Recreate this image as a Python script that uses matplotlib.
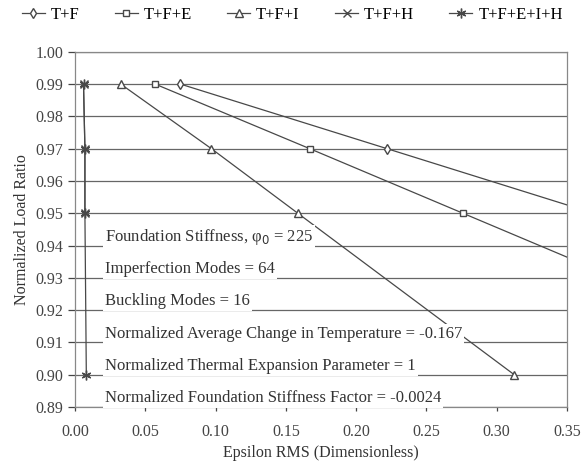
import numpy as np
import matplotlib.pyplot as plt

plt.rcParams['font.family'] = ['Liberation Serif', 'DejaVu Serif']

# series (last points of T+F and T+F+E run off the right edge)
tf_x = [0.075, 0.222, 0.369]
tf_y = [0.99, 0.97, 0.95]
tfe_x = [0.057, 0.167, 0.276, 0.385]
tfe_y = [0.99, 0.97, 0.95, 0.93]
tfi_x = [0.0325, 0.097, 0.1585, 0.3125]
tfi_y = [0.99, 0.97, 0.95, 0.90]
tfh_x = [0.006, 0.007, 0.007]
tfh_y = [0.99, 0.97, 0.95]
all_x = [0.006, 0.007, 0.007, 0.008]
all_y = [0.99, 0.97, 0.95, 0.90]

notes = ["Foundation Stiffness, φ$_0$ = 225",
         "Imperfection Modes = 64",
         "Buckling Modes = 16",
         "Normalized Average Change in Temperature = -0.167",
         "Normalized Thermal Expansion Parameter = 1",
         "Normalized Foundation Stiffness Factor = -0.0024"]
note_y = [0.9427, 0.9328, 0.9229, 0.9127, 0.9028, 0.8929]

fig = plt.figure(figsize=(5.82, 4.71), dpi=100)
ax = fig.add_axes([0.129, 0.136, 0.845, 0.754])

col = '#484848'
ax.plot(tf_x, tf_y, color=col, lw=0.9, marker='d', ms=5, mfc='white', mec=col, label='T+F', zorder=3)
ax.plot(tfe_x, tfe_y, color=col, lw=0.9, marker='s', ms=5, mfc='white', mec=col, label='T+F+E', zorder=3)
ax.plot(tfi_x, tfi_y, color=col, lw=0.9, marker='^', ms=6, mfc='white', mec=col, label='T+F+I', zorder=3)
ax.plot(tfh_x, tfh_y, color=col, lw=0.9, marker='x', ms=6, mec=col, label='T+F+H', zorder=3)
ax.plot(all_x, all_y, color=col, lw=0.9, marker=(6, 2, 0), ms=7, mec=col, label='T+F+E+I+H', zorder=3)

for s, y in zip(notes, note_y):
    ax.text(0.0213, y, s, fontsize=12, color='#333333', va='center', ha='left', zorder=5,
            bbox=dict(facecolor='white', edgecolor='none', pad=1.5))

ax.set_xlim(0, 0.35)
ax.set_ylim(0.89, 1.00)
ax.set_xticks(np.arange(0, 0.351, 0.05))
ax.set_yticks(np.arange(0.89, 1.0001, 0.01))
ax.xaxis.set_major_formatter(plt.FormatStrFormatter('%.2f'))
ax.yaxis.set_major_formatter(plt.FormatStrFormatter('%.2f'))
ax.grid(axis='y', color='#666666', lw=0.9)
ax.tick_params(axis='both', labelsize=11.5, colors='#444444', length=5, width=0.9)
ax.tick_params(axis='x', length=3, pad=9)
for sp in ax.spines.values():
    sp.set_color('#888888')
    sp.set_linewidth(0.9)

ax.set_xlabel('Epsilon RMS (Dimensionless)', fontsize=11.5, color='#333333', labelpad=4)
ax.set_ylabel('Normalized Load Ratio', fontsize=11.5, color='#333333')

ax.legend(loc='lower left', bbox_to_anchor=(-0.122, 1.062), ncol=5, frameon=False, fontsize=12,
          handlelength=1.4, handletextpad=0.35, columnspacing=2.1, borderaxespad=0)

fig.savefig('out.png', dpi=100)
